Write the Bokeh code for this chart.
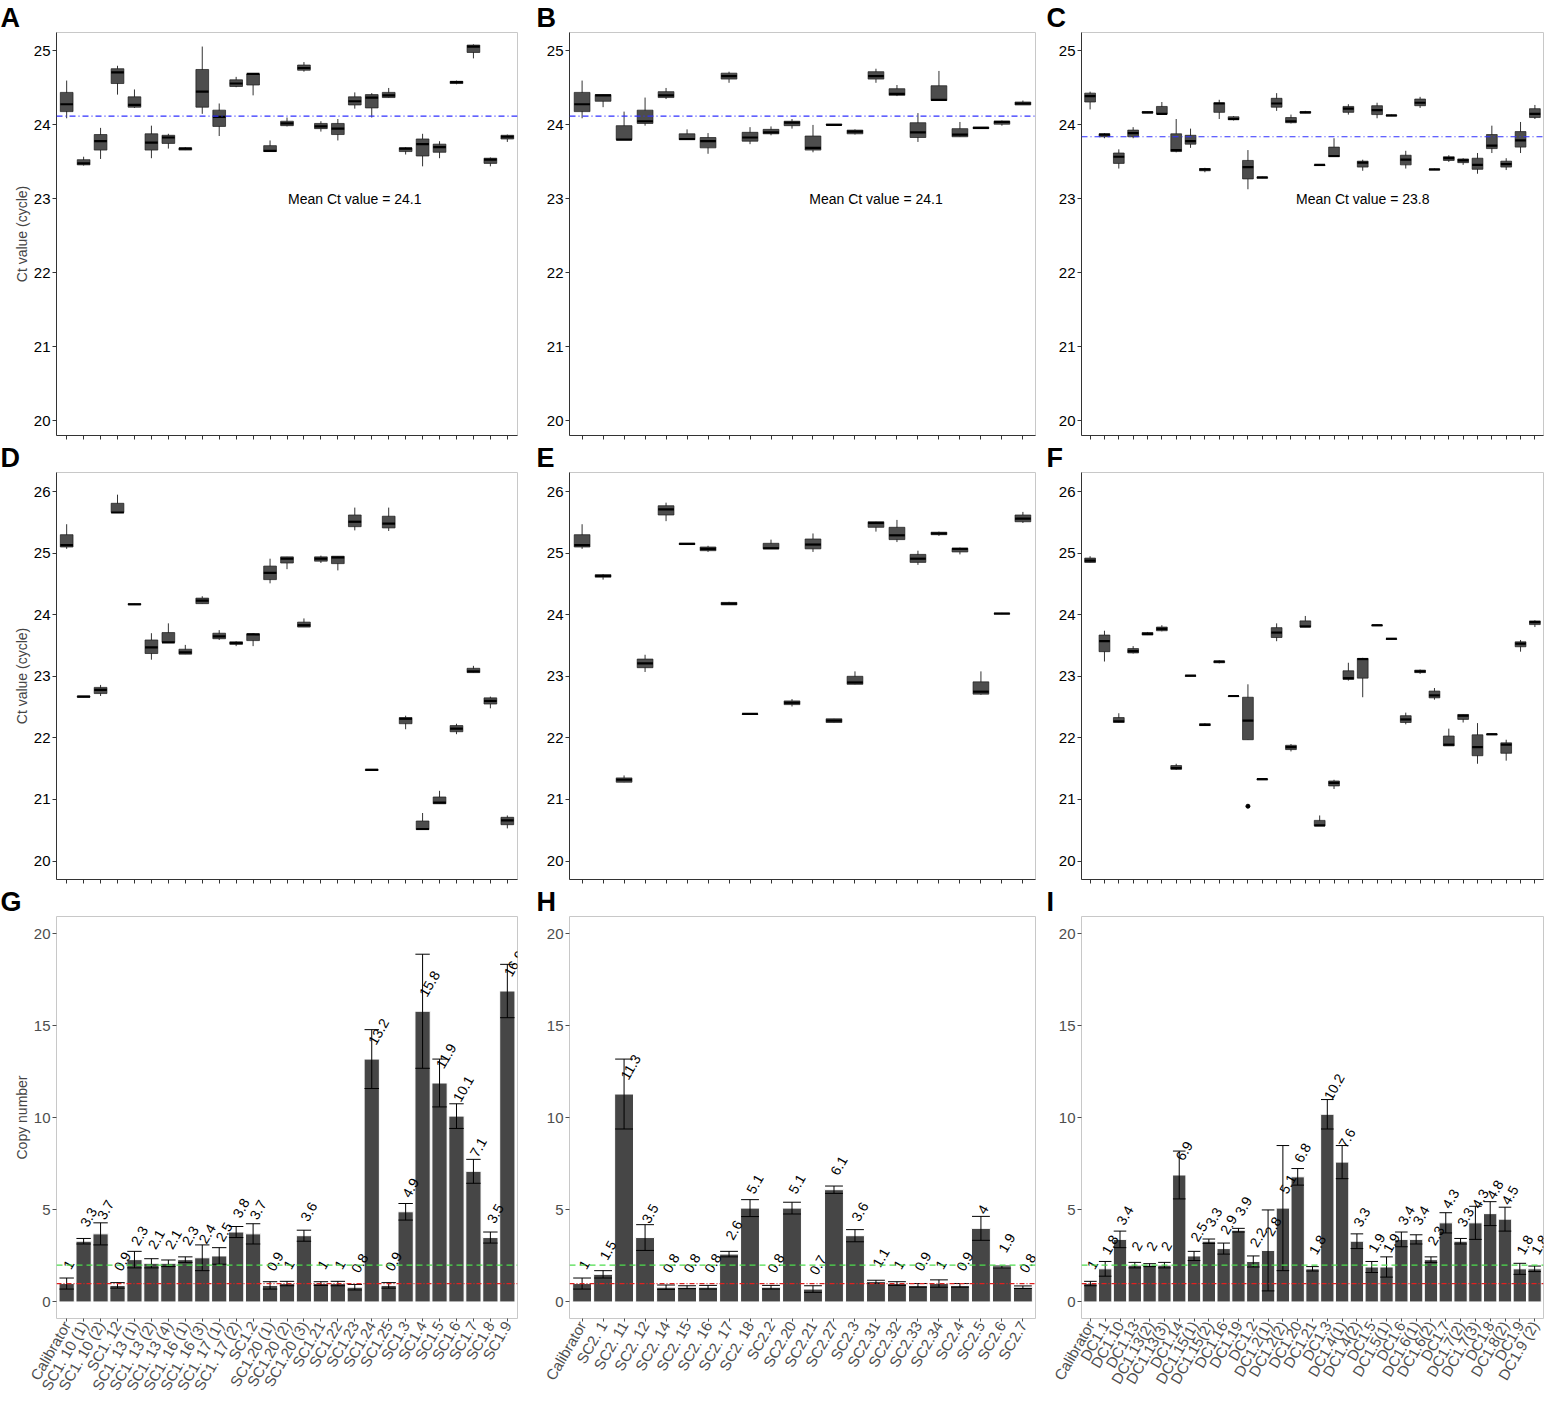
import math
from bokeh.plotting import figure
from bokeh.layouts import gridplot
from bokeh.models import FixedTicker, Span, ColumnDataSource
from bokeh.embed import file_html
from bokeh.resources import INLINE
from bokeh.core.properties import value

FONT = "Liberation Sans"

# ------------------------------------------------------------------ data
g_labels = ["Calibrator", "SC1. 10 (1)", "SC1. 10 (2)", "SC1. 12", "SC1. 13 (1)", "SC1. 13 (2)",
            "SC1. 13 (4)", "SC1. 16 (1)", "SC1. 16 (3)", "SC1. 17 (1)", "SC1. 17 (2)", "SC1.2",
            "SC1.20 (1)", "SC1.20 (2)", "SC1.20 (3)", "SC1.21", "SC1.22", "SC1.23", "SC1.24",
            "SC1.25", "SC1.3", "SC1.4", "SC1.5", "SC1.6", "SC1.7", "SC1.8", "SC1.9"]
h_labels = ["Calibrator", "SC2. 1", "SC2. 11", "SC2. 12", "SC2. 14", "SC2. 15", "SC2. 16",
            "SC2. 17", "SC2. 18", "SC2.2", "SC2.20", "SC2.21", "SC2.27", "SC2.3", "SC2.31",
            "SC2.32", "SC2.33", "SC2.34", "SC2.4", "SC2.5", "SC2.6", "SC2.7"]
i_labels = ["Calibrator", "DC1.1", "DC1.10", "DC1.13", "DC1.13(2)", "DC1.13(3)", "DC1.14",
            "DC1.15(1)", "DC1.15(2)", "DC1.16", "DC1.19", "DC1.2", "DC1.2(1)", "DC1.2(2)",
            "DC1.20", "DC1.21", "DC1.3", "DC1.4(1)", "DC1.4(2)", "DC1.5", "DC1.5(1)", "DC1.6",
            "DC1.6(1)", "DC1.6(2)", "DC1.7", "DC1.7(2)", "DC1.7(3)", "DC1.8", "DC1.8(2)",
            "DC1.9", "DC1.9 (2)"]

# Panel A boxes (lower whisker, Q1, median, Q3, upper whisker)
a_lw = [24.09, 23.45, 23.54, 24.41, 24.23, 23.55, 23.68, 23.66, 24.15, 23.85, 24.51, 24.40, 23.64, 23.98,
        24.72, 23.91, 23.79, 24.22, 24.10, 24.37, 23.60, 23.44, 23.55, 24.55, 24.90, 23.44, 23.77]
a_q1 = [24.18, 23.46, 23.66, 24.56, 24.24, 23.66, 23.75, 23.66, 24.24, 23.98, 24.52, 24.54, 23.64, 23.99,
        24.74, 23.95, 23.87, 24.27, 24.23, 24.37, 23.64, 23.58, 23.63, 24.56, 24.98, 23.48, 23.81]
a_med = [24.28, 23.48, 23.78, 24.71, 24.27, 23.76, 23.83, 23.68, 24.45, 24.11, 24.56, 24.69, 23.65, 24.02,
         24.77, 23.98, 23.95, 24.32, 24.37, 24.40, 23.68, 23.74, 23.70, 24.58, 25.06, 23.53, 23.84]
a_q3 = [24.44, 23.53, 23.87, 24.76, 24.38, 23.88, 23.86, 23.69, 24.75, 24.20, 24.61, 24.69, 23.72, 24.05,
        24.81, 24.02, 24.02, 24.38, 24.41, 24.44, 23.69, 23.81, 23.74, 24.59, 25.08, 23.55, 23.86]
a_uw = [24.60, 23.57, 23.96, 24.80, 24.48, 23.99, 23.88, 23.70, 25.06, 24.29, 24.65, 24.70, 23.79, 24.10,
        24.85, 24.05, 24.08, 24.44, 24.43, 24.50, 23.70, 23.88, 23.78, 24.60, 25.09, 23.56, 23.87]

# Panel B boxes
b_lw = [24.09, 24.24, 23.80, 23.99, 24.35, 23.80, 23.61, 24.57, 23.74, 23.86, 23.95, 23.63, 23.99, 23.87,
        24.57, 24.39, 23.77, 24.33, 23.84, 23.95, 23.99, 24.27]
b_q1 = [24.18, 24.32, 23.80, 24.02, 24.37, 23.80, 23.69, 24.62, 23.78, 23.88, 23.99, 23.66, 24.00, 23.88,
        24.62, 24.40, 23.83, 24.33, 23.84, 23.95, 24.01, 24.27]
b_med = [24.28, 24.40, 23.80, 24.05, 24.40, 23.81, 23.78, 24.66, 23.83, 23.90, 24.03, 23.69, 24.00, 23.91,
         24.66, 24.42, 23.90, 24.34, 23.87, 23.96, 24.04, 24.29]
b_q3 = [24.44, 24.41, 23.99, 24.20, 24.45, 23.88, 23.83, 24.70, 23.90, 23.94, 24.05, 23.85, 24.01, 23.93,
        24.72, 24.49, 24.03, 24.53, 23.95, 23.97, 24.05, 24.31]
b_uw = [24.60, 24.41, 24.18, 24.37, 24.50, 23.94, 23.89, 24.72, 23.97, 23.98, 24.08, 24.00, 24.01, 23.94,
        24.76, 24.54, 24.16, 24.73, 24.04, 23.97, 24.06, 24.33]

# Panel C boxes
c_lw = [24.21, 23.82, 23.41, 23.82, 24.16, 24.15, 23.63, 23.69, 23.36, 24.08, 24.06, 23.13, 23.28, 24.19,
        24.02, 24.16, 23.45, 23.57, 24.14, 23.38, 24.09, 24.12, 23.41, 24.23, 23.39, 23.50, 23.46, 23.34,
        23.62, 23.39, 23.62, 24.08]
c_q1 = [24.31, 23.84, 23.48, 23.84, 24.16, 24.15, 23.64, 23.74, 23.38, 24.17, 24.07, 23.27, 23.28, 24.24,
        24.03, 24.16, 23.45, 23.57, 24.17, 23.43, 24.14, 24.12, 23.46, 24.26, 23.39, 23.52, 23.49, 23.40,
        23.68, 23.43, 23.70, 24.10]
c_med = [24.39, 23.87, 23.57, 23.89, 24.17, 24.15, 23.66, 23.78, 23.40, 24.29, 24.08, 23.43, 23.29, 24.29,
         24.05, 24.17, 23.46, 23.58, 24.22, 23.49, 24.20, 24.13, 23.53, 24.30, 23.40, 23.55, 23.52, 23.46,
         23.72, 23.47, 23.79, 24.15]
c_q3 = [24.43, 23.88, 23.62, 23.93, 24.18, 24.25, 23.88, 23.86, 23.41, 24.30, 24.11, 23.52, 23.29, 24.36,
        24.10, 24.18, 23.46, 23.70, 24.25, 23.51, 24.26, 24.13, 23.59, 24.35, 23.40, 23.57, 23.54, 23.55,
        23.87, 23.51, 23.91, 24.22]
c_uw = [24.45, 23.89, 23.67, 23.97, 24.18, 24.31, 24.08, 23.95, 23.42, 24.34, 24.12, 23.66, 23.30, 24.43,
        24.14, 24.19, 23.47, 23.82, 24.28, 23.53, 24.30, 24.14, 23.65, 24.38, 23.41, 23.59, 23.55, 23.62,
        23.99, 23.55, 24.04, 24.27]

# Panel D boxes
d_lw = [25.07, 22.66, 22.68, 25.66, 24.16, 23.27, 23.55, 23.36, 24.18, 23.59, 23.49, 23.49, 24.51, 24.74,
        23.80, 24.84, 24.72, 25.37, 21.47, 25.36, 22.14, 20.51, 20.93, 22.06, 23.06, 22.48, 20.53]
d_q1 = [25.10, 22.66, 22.72, 25.66, 24.16, 23.37, 23.55, 23.36, 24.18, 23.61, 23.52, 23.58, 24.57, 24.84,
        23.80, 24.87, 24.83, 25.43, 21.47, 25.41, 22.23, 20.51, 20.93, 22.10, 23.06, 22.55, 20.59]
d_med = [25.13, 22.67, 22.78, 25.66, 24.17, 23.47, 23.55, 23.39, 24.23, 23.65, 23.54, 23.68, 24.68, 24.91,
         23.83, 24.91, 24.93, 25.51, 21.48, 25.48, 22.31, 20.52, 20.95, 22.15, 23.08, 22.60, 20.66]
d_q3 = [25.30, 22.68, 22.82, 25.81, 24.18, 23.59, 23.71, 23.44, 24.27, 23.70, 23.56, 23.69, 24.79, 24.94,
        23.88, 24.94, 24.95, 25.62, 21.49, 25.60, 22.33, 20.65, 21.04, 22.20, 23.13, 22.65, 20.71]
d_uw = [25.47, 22.68, 22.86, 25.95, 24.18, 23.70, 23.86, 23.51, 24.30, 23.75, 23.57, 23.70, 24.91, 24.94,
        23.94, 24.96, 24.95, 25.74, 21.49, 25.74, 22.36, 20.78, 21.14, 22.23, 23.17, 22.67, 20.74]

# Panel E boxes
e_lw = [25.07, 24.57, 21.28, 23.07, 25.52, 25.14, 25.02, 24.16, 22.38, 25.07, 22.51, 25.02, 22.25, 22.87,
        25.35, 25.18, 24.81, 25.28, 24.98, 22.70, 24.01, 25.49]
e_q1 = [25.10, 24.61, 21.28, 23.14, 25.62, 25.14, 25.04, 24.16, 22.38, 25.07, 22.54, 25.07, 22.25, 22.87,
        25.42, 25.22, 24.85, 25.30, 25.02, 22.71, 24.01, 25.51]
e_med = [25.13, 24.63, 21.32, 23.21, 25.71, 25.15, 25.07, 24.18, 22.39, 25.08, 22.57, 25.14, 22.28, 22.90,
         25.49, 25.29, 24.91, 25.32, 25.07, 22.75, 24.02, 25.56]
e_q3 = [25.30, 24.65, 21.35, 23.28, 25.77, 25.16, 25.10, 24.20, 22.39, 25.16, 22.60, 25.23, 22.31, 23.00,
        25.51, 25.42, 24.98, 25.34, 25.08, 22.91, 24.02, 25.62]
e_uw = [25.47, 24.66, 21.39, 23.35, 25.82, 25.16, 25.12, 24.21, 22.40, 25.22, 22.63, 25.32, 22.31, 23.08,
        25.51, 25.54, 25.04, 25.35, 25.09, 23.08, 24.03, 25.67]

# Panel F boxes
f_lw = [24.85, 23.24, 22.25, 23.37, 23.67, 23.73, 21.48, 23.00, 22.20, 23.21, 22.67, 21.97, 21.32, 23.57,
        21.78, 23.80, 20.57, 21.17, 22.93, 22.66, 23.82, 23.60, 22.22, 23.04, 22.62, 21.87, 22.25, 21.58,
        22.05, 21.63, 23.40, 23.80]
f_q1 = [24.85, 23.40, 22.25, 23.38, 23.67, 23.74, 21.49, 23.00, 22.20, 23.22, 22.67, 21.97, 21.32, 23.63,
        21.81, 23.80, 20.57, 21.22, 22.95, 22.97, 23.82, 23.60, 22.25, 23.06, 22.65, 21.87, 22.30, 21.71,
        22.05, 21.75, 23.48, 23.84]
f_med = [24.88, 23.57, 22.27, 23.41, 23.69, 23.77, 21.51, 23.01, 22.21, 23.24, 22.68, 22.28, 21.33, 23.71,
         21.85, 23.81, 20.58, 21.27, 22.97, 23.28, 23.83, 23.61, 22.30, 23.08, 22.69, 21.89, 22.36, 21.85,
         22.06, 21.89, 23.53, 23.88]
f_q3 = [24.92, 23.67, 22.33, 23.45, 23.71, 23.80, 21.55, 23.01, 22.23, 23.25, 22.68, 22.66, 21.33, 23.79,
        21.88, 23.90, 20.66, 21.30, 23.09, 23.29, 23.83, 23.61, 22.36, 23.10, 22.76, 22.03, 22.38, 22.05,
        22.06, 21.92, 23.56, 23.90]
f_uw = [24.95, 23.74, 22.40, 23.49, 23.72, 23.83, 21.58, 23.02, 22.24, 23.26, 22.69, 22.87, 21.34, 23.86,
        21.90, 23.98, 20.74, 21.32, 23.22, 23.30, 23.84, 23.62, 22.41, 23.11, 22.81, 22.15, 22.38, 22.24,
        22.07, 21.97, 23.59, 23.91]
f_outlier_cat = [12]
f_outlier_val = [20.89]

mean_ct = [24.12, 24.12, 23.84]
mean_text = ["Mean Ct value = 24.1", "Mean Ct value = 24.1", "Mean Ct value = 23.8"]
mean_text_cat = [18, 15, 20]

# Copy numbers (mean) and error (sd)
g_vals = [1, 3.3, 3.7, 0.9, 2.3, 2.1, 2.1, 2.3, 2.4, 2.5, 3.8, 3.7, 0.9, 1, 3.6, 1, 1, 0.8, 13.2,
          0.9, 4.9, 15.8, 11.9, 10.1, 7.1, 3.5, 16.9]
g_err = [0.3, 0.15, 0.6, 0.15, 0.45, 0.25, 0.18, 0.15, 0.7, 0.45, 0.3, 0.55, 0.2, 0.12, 0.3, 0.1, 0.12,
         0.15, 1.6, 0.15, 0.45, 3.1, 1.3, 0.67, 0.65, 0.3, 1.45]
h_vals = [1, 1.5, 11.3, 3.5, 0.8, 0.8, 0.8, 2.6, 5.1, 0.8, 5.1, 0.7, 6.1, 3.6, 1.1, 1, 0.9, 1, 0.9,
          4, 1.9, 0.8]
h_err = [0.3, 0.2, 1.9, 0.7, 0.12, 0.08, 0.1, 0.15, 0.46, 0.1, 0.32, 0.18, 0.2, 0.33, 0.08, 0.1, 0.1,
         0.2, 0.1, 0.65, 0.05, 0.07]
i_vals = [1, 1.8, 3.4, 2, 2, 2, 6.9, 2.5, 3.3, 2.9, 3.9, 2.2, 2.8, 5.1, 6.8, 1.8, 10.2, 7.6, 3.3, 1.9,
          1.9, 3.4, 3.4, 2.3, 4.3, 3.3, 4.3, 4.8, 4.5, 1.8, 1.8]
i_err = [0.12, 0.4, 0.45, 0.15, 0.08, 0.15, 1.3, 0.25, 0.12, 0.3, 0.1, 0.3, 2.2, 3.4, 0.45, 0.12, 0.8,
         0.9, 0.4, 0.3, 0.55, 0.4, 0.25, 0.15, 0.55, 0.15, 0.9, 0.65, 0.65, 0.3, 0.15]

ct_ticks_top = [20, 21, 22, 23, 24, 25]
ct_ticks_mid = [20, 21, 22, 23, 24, 25, 26]
copy_ticks = [0, 5, 10, 15, 20]
copy_lines = [2, 1]

# ------------------------------------------------------------------ layout
COLS = [dict(w=530, l=56, r=13), dict(w=515, l=39, r=10), dict(w=510, l=36, r=12)]
ROWS = [dict(h=440, t=25, b=5), dict(h=444, t=25, b=5), dict(h=516, t=25, b=75)]
LETTER_OFFSET = [-56, -33, -35]
BOX_W = 0.75
CAP_W = 0.85


def make_fig(c, r, n, yr, letter):
    col, row = COLS[c], ROWS[r]
    p = figure(width=col["w"], height=row["h"], x_range=(0.4, n + 0.6), y_range=yr,
               output_backend="svg", toolbar_location=None, title=letter,
               min_border_left=col["l"], min_border_right=col["r"],
               min_border_top=row["t"], min_border_bottom=row["b"])
    p.title.text_font = FONT
    p.title.text_font_style = "bold"
    p.title.text_font_size = "27px"
    p.title.align = "left"
    p.title.offset = LETTER_OFFSET[c]
    p.title.standoff = 0
    p.title.text_color = "black"
    p.grid.visible = False
    p.outline_line_color = "#c8c8c8"
    p.outline_line_width = 1
    p.background_fill_color = "white"
    p.border_fill_color = "white"
    for ax in (p.xaxis[0], p.yaxis[0]):
        ax.minor_tick_line_color = None
        ax.major_tick_in = 0
        ax.major_tick_out = 4
        ax.major_label_text_font = FONT
        ax.axis_label_text_font = FONT
        ax.axis_label_text_font_style = "normal"
        ax.major_label_standoff = 2
    p.yaxis.major_label_text_font_size = "15px"
    return p


def box_panel(c, r, lw, q1, med, q3, uw, yr, yticks, letter, ylabel=None, mean_idx=None):
    n = len(med)
    xs = list(range(1, n + 1))
    p = make_fig(c, r, n, yr, letter)
    src = ColumnDataSource(dict(x=xs, lw=lw, q1=q1, med=med, q3=q3, uw=uw,
                                xl=[x - BOX_W / 2 for x in xs], xr=[x + BOX_W / 2 for x in xs]))
    p.segment(x0="x", y0="lw", x1="x", y1="uw", source=src, line_color="#333333", line_width=1)
    p.vbar(x="x", width=BOX_W, bottom="q1", top="q3", source=src, fill_color="#4d4d4d",
           line_color="#1a1a1a", line_width=0.7)
    p.segment(x0="xl", y0="med", x1="xr", y1="med", source=src, line_color="black", line_width=2.2)
    if mean_idx is not None:
        p.add_layout(Span(location=mean_ct[mean_idx], dimension="width", line_color="#3030ff",
                          line_alpha=1.0, line_width=1.2, line_dash="6 3 1 3"))
        p.text(x=[mean_text_cat[mean_idx]], y=[23.0], text=[mean_text[mean_idx]],
               text_align="center", text_baseline="middle", text_font=value(FONT),
               text_font_size="14px", text_color="black")
    p.xaxis.ticker = FixedTicker(ticks=xs)
    p.xaxis.major_label_overrides = {x: "" for x in xs}
    p.xaxis.major_label_text_font_size = "1px"
    p.xaxis.major_label_standoff = 0
    p.yaxis.ticker = FixedTicker(ticks=yticks)
    p.yaxis.major_label_text_color = "black"
    for ax in (p.xaxis[0], p.yaxis[0]):
        ax.axis_line_color = "#333333"
        ax.major_tick_line_color = "#333333"
    if ylabel:
        p.yaxis.axis_label = ylabel
        p.yaxis.axis_label_text_font_size = "14px"
        p.yaxis.axis_label_standoff = 1
    return p


def bar_panel(c, vals, errs, labels, letter, ylabel=None):
    n = len(vals)
    xs = list(range(1, n + 1))
    p = make_fig(c, 2, n, (-0.9, 20.95), letter)
    src = ColumnDataSource(dict(
        x=xs, v=vals, lo=[v - e for v, e in zip(vals, errs)], hi=[v + e for v, e in zip(vals, errs)],
        xl=[x - CAP_W / 2 for x in xs], xr=[x + CAP_W / 2 for x in xs],
        ty=[v + 0.85 for v in vals], lab=[f"{v:g}" for v in vals]))
    p.vbar(x="x", width=0.9, bottom=0, top="v", source=src, fill_color="#464646",
           line_color="white", line_width=1)
    p.segment(x0="x", y0="lo", x1="x", y1="hi", source=src, line_color="black", line_width=1)
    p.segment(x0="xl", y0="hi", x1="xr", y1="hi", source=src, line_color="black", line_width=1)
    p.segment(x0="xl", y0="lo", x1="xr", y1="lo", source=src, line_color="black", line_width=1)
    p.add_layout(Span(location=copy_lines[0], dimension="width", line_color="#4ddd4d",
                      line_width=1.2, line_dash="6 4"))
    p.add_layout(Span(location=copy_lines[1], dimension="width", line_color="#e02020",
                      line_width=1.2, line_dash="5 2 1 2"))
    p.text(x="x", y="ty", text="lab", source=src, angle=math.pi / 3, text_align="left",
           text_baseline="middle", text_font=value(FONT), text_font_size="14px",
           text_color="black")
    p.xaxis.ticker = FixedTicker(ticks=xs)
    p.xaxis.major_label_overrides = {x: lab for x, lab in zip(xs, labels)}
    p.xaxis.major_label_orientation = math.pi / 3
    p.xaxis.major_label_text_font_size = "15px"
    p.xaxis.major_tick_out = 3
    p.xaxis.major_label_standoff = 1
    p.yaxis.ticker = FixedTicker(ticks=copy_ticks)
    for ax in (p.xaxis[0], p.yaxis[0]):
        ax.axis_line_color = None
        ax.major_tick_line_color = "#4d4d4d"
        ax.major_label_text_color = "#4d4d4d"
    if ylabel:
        p.yaxis.axis_label = ylabel
        p.yaxis.axis_label_text_font_size = "14px"
        p.yaxis.axis_label_standoff = 1
    return p


yr_top = (19.8, 25.25)
yr_mid = (19.7, 26.31)

pa = box_panel(0, 0, a_lw, a_q1, a_med, a_q3, a_uw, yr_top, ct_ticks_top, "A", "Ct value (cycle)", 0)
pb = box_panel(1, 0, b_lw, b_q1, b_med, b_q3, b_uw, yr_top, ct_ticks_top, "B", None, 1)
pc = box_panel(2, 0, c_lw, c_q1, c_med, c_q3, c_uw, yr_top, ct_ticks_top, "C", None, 2)
pd = box_panel(0, 1, d_lw, d_q1, d_med, d_q3, d_uw, yr_mid, ct_ticks_mid, "D", "Ct value (cycle)")
pe = box_panel(1, 1, e_lw, e_q1, e_med, e_q3, e_uw, yr_mid, ct_ticks_mid, "E")
pf = box_panel(2, 1, f_lw, f_q1, f_med, f_q3, f_uw, yr_mid, ct_ticks_mid, "F")
pf.scatter(x=f_outlier_cat, y=f_outlier_val, size=4, color="black")

pg = bar_panel(0, g_vals, g_err, g_labels, "G", "Copy number")
ph = bar_panel(1, h_vals, h_err, h_labels, "H")
pi = bar_panel(2, i_vals, i_err, i_labels, "I")

grid = gridplot([[pa, pb, pc], [pd, pe, pf], [pg, ph, pi]], toolbar_location=None)

with open("out.html", "w") as fh_out:
    fh_out.write(file_html(grid, INLINE))
